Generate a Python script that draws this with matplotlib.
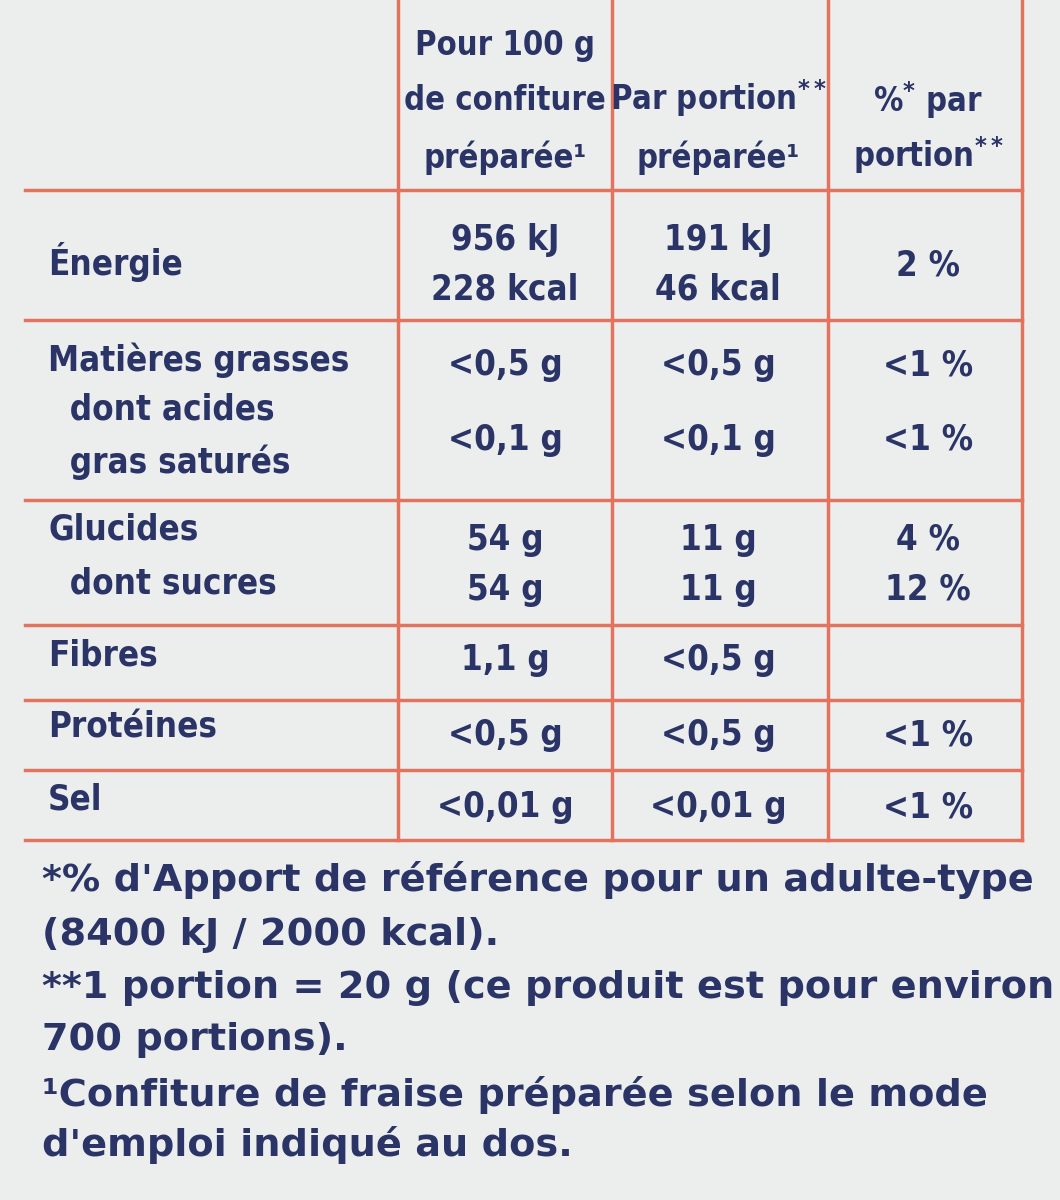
import matplotlib
matplotlib.use("Agg")
import matplotlib.pyplot as plt

headers = [["Pour 100 g", "de confiture", "préparée¹"],
           ["Par portion$^{\\mathbf{**}}$", "préparée¹"],
           ["%$^{\\mathbf{*}}$ par", "portion$^{\\mathbf{**}}$"]]
labels = [["Énergie"], ["Matières grasses", "  dont acides", "  gras saturés"],
          ["Glucides", "  dont sucres"], ["Fibres"], ["Protéines"], ["Sel"]]
col1 = [["956 kJ", "228 kcal"], ["<0,5 g", "<0,1 g"], ["54 g", "54 g"], ["1,1 g"], ["<0,5 g"], ["<0,01 g"]]
col2 = [["191 kJ", "46 kcal"], ["<0,5 g", "<0,1 g"], ["11 g", "11 g"], ["<0,5 g"], ["<0,5 g"], ["<0,01 g"]]
col3 = [["2 %"], ["<1 %", "<1 %"], ["4 %", "12 %"], [""], ["<1 %"], ["<1 %"]]
footnotes = ["*% d'Apport de référence pour un adulte-type",
             "(8400 kJ / 2000 kcal).",
             "**1 portion = 20 g (ce produit est pour environ",
             "700 portions).",
             "¹Confiture de fraise préparée selon le mode",
             "d'emploi indiqué au dos."]

NAVY = "#2b3466"
RED = "#e2735f"
BG = "#eceeee"

fig = plt.figure(figsize=(10.6, 12), dpi=100, facecolor=BG)
ax = fig.add_axes([0, 0, 1, 1])
ax.set_xlim(0, 1060); ax.set_ylim(1200, 0); ax.axis("off")
ax.set_facecolor(BG)

kw = dict(color=NAVY, fontsize=25, fontweight="bold", fontstretch="condensed",
          family="DejaVu Sans", va="center")

vx = [398, 612, 828, 1022]
hy = [190, 320, 500, 625, 700, 770, 840]
for x in vx:
    ax.plot([x, x], [0, 840], color=RED, lw=2.5)
for y in hy:
    ax.plot([25, 1022], [y, y], color=RED, lw=2.5)

cx = [505, 718, 928]
hdr_y = [[45, 100, 158], [98, 158], [100, 155]]
for c, lines, ys in zip(cx, headers, hdr_y):
    for t, y in zip(lines, ys):
        ax.text(c, y, t, ha="center", **dict(kw, fontsize=23.5))

label_y = [[262], [360, 410, 462], [530, 583], [655], [728], [800]]
val_y = [[240, 290], [365, 440], [540, 590], [660], [735], [807]]
c3_y = [[265], [365, 440], [540, 590], [660], [735], [807]]
for i in range(len(labels)):
    for t, y in zip(labels[i], label_y[i]):
        ax.text(48, y, t, ha="left", **kw)
    for t, y in zip(col1[i], val_y[i]):
        ax.text(cx[0], y, t, ha="center", **kw)
    for t, y in zip(col2[i], val_y[i]):
        ax.text(cx[1], y, t, ha="center", **kw)
    for t, y in zip(col3[i], c3_y[i]):
        ax.text(cx[2], y, t, ha="center", **kw)

fy = [880, 935, 988, 1040, 1095, 1145]
for t, y in zip(footnotes, fy):
    ax.text(42, y, t, ha="left", **dict(kw, fontsize=27.5, fontstretch="normal"))

fig.savefig("out.png", dpi=100, facecolor=BG)
